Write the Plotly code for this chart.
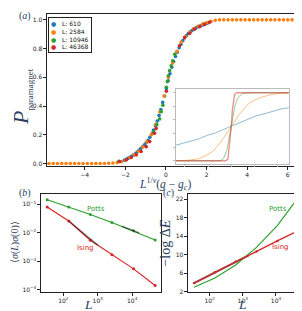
import plotly.graph_objects as go

# ---------------- data ----------------
# panel (a): L = 610
blue_x = [-2.05, -1.96, -1.87, -1.78, -1.69, -1.60, -1.51, -1.42, -1.33, -1.24, -1.15, -1.06,
          -0.97, -0.88, -0.79, -0.70, -0.61, -0.52, -0.43, -0.34, -0.25, -0.16, -0.07, 0.02,
          0.11, 0.20, 0.29, 0.38, 0.47, 0.56, 0.65, 0.74, 0.83, 0.92, 1.01, 1.10, 1.19, 1.28,
          1.37, 1.46, 1.55, 1.64, 1.73, 1.82, 1.91, 2.00, 2.09]
blue_y = [0.022, 0.028, 0.035, 0.042, 0.050, 0.058, 0.068, 0.080, 0.092, 0.104, 0.116, 0.130,
          0.145, 0.162, 0.182, 0.205, 0.232, 0.262, 0.295, 0.335, 0.375, 0.425, 0.470, 0.520,
          0.575, 0.625, 0.670, 0.710, 0.745, 0.775, 0.805, 0.830, 0.855, 0.875, 0.890, 0.905,
          0.915, 0.925, 0.935, 0.942, 0.950, 0.955, 0.960, 0.965, 0.970, 0.975, 0.980]
# L = 2584
orange_x = [-5.76, -5.55, -5.34, -5.13, -4.92, -4.71, -4.50, -4.29, -4.08, -3.87, -3.66, -3.45,
            -3.24, -3.03, -2.82, -2.61, -2.40, -2.19, -1.98, -1.77, -1.56, -1.35, -1.14, -0.93,
            -0.72, -0.51, -0.30, -0.09, 0.12, 0.33, 0.54, 0.75, 0.96, 1.17, 1.38, 1.59, 1.80,
            2.01, 2.22, 2.43, 2.64, 2.85, 3.06, 3.27, 3.48, 3.69, 3.90, 4.11, 4.32, 4.53, 4.74,
            4.95, 5.16, 5.37, 5.58, 5.79, 6.00, 6.21, 6.42]
orange_y = [0.0, 0.0, 0.0, 0.0, 0.0, 0.0, 0.0, 0.0, 0.0, 0.0, 0.0, 0.0,
            0.0, 0.0, 0.001, 0.003, 0.006, 0.012, 0.024, 0.040, 0.060, 0.085, 0.115, 0.150,
            0.200, 0.270, 0.360, 0.470, 0.600, 0.700, 0.780, 0.845, 0.885, 0.915, 0.940, 0.955, 0.970,
            0.980, 0.990, 0.997, 1.0, 1.0, 1.0, 1.0, 1.0, 1.0, 1.0, 1.0, 1.0, 1.0, 1.0,
            1.0, 1.0, 1.0, 1.0, 1.0, 1.0, 1.0, 1.0]
# L = 10946
green_x = [-2.32, -0.62, -0.45, -0.31, -0.23, -0.15, 0.02, 0.07, 0.12, 0.18, 0.26, 0.34, 0.43]
green_y = [0.015, 0.22, 0.27, 0.31, 0.36, 0.405, 0.53, 0.57, 0.61, 0.646, 0.68, 0.715, 0.76]
# L = 46368
red_x = [-2.28, -1.95, -1.71, -1.46, -1.22, -0.97, -0.80, -0.56, -0.48, 0.02, 0.67, 0.92,
         1.17, 1.41, 1.66, 1.90, 2.15]
red_y = [0.014, 0.025, 0.041, 0.060, 0.083, 0.117, 0.152, 0.210, 0.244, 0.503, 0.820, 0.876,
         0.906, 0.934, 0.952, 0.968, 0.984]
series_labels = ["L: 610", "L: 2584", "L: 10946", "L: 46368"]

# inset of panel (a)
inset_blue_x = [0.0, 0.1, 0.2, 0.27, 0.35, 0.42, 0.49, 0.56, 0.63, 0.71, 0.78, 0.86, 0.93, 1.0]
inset_blue_y = [0.23, 0.27, 0.32, 0.37, 0.41, 0.46, 0.51, 0.56, 0.61, 0.66, 0.69, 0.73, 0.76, 0.78]
inset_orange_x = [0.0, 0.12, 0.2, 0.27, 0.32, 0.36, 0.42, 0.49, 0.56, 0.65, 0.72, 0.77, 0.86, 0.93, 1.0]
inset_orange_y = [0.0, 0.01, 0.03, 0.08, 0.13, 0.20, 0.33, 0.50, 0.68, 0.85, 0.91, 0.94, 0.98, 0.99, 1.0]
inset_green_x = [0.0, 0.2, 0.39, 0.42, 0.45, 0.49, 0.52, 0.55, 0.59, 0.7, 1.0]
inset_green_y = [0.0, 0.0, 0.0, 0.03, 0.15, 0.50, 0.80, 0.93, 0.99, 1.0, 1.0]
inset_red_x = [0.0, 0.2, 0.44, 0.46, 0.48, 0.49, 0.50, 0.52, 0.54, 0.7, 1.0]
inset_red_y = [0.0, 0.0, 0.0, 0.02, 0.30, 0.50, 0.75, 0.98, 1.0, 1.0, 1.0]

# panels (b) and (c)
L_vals = [34, 144, 610, 2584, 10946, 46368]
potts_corr = [0.145, 0.081, 0.044, 0.023, 0.0117, 0.0056]
ising_corr = [0.081, 0.026, 0.0055, 0.0017, 0.00054, 0.00014]
ising_fit_L = [144, 1000]
ising_fit_corr = [0.026, 0.0037]
potts_fit_L = [5000, 16000]
potts_fit_corr = [0.017, 0.0098]
potts_gap = [3.0, 5.0, 7.8, 11.6, 16.3, 22.3]
ising_gap = [3.9, 6.2, 8.5, 10.7, 13.0, 15.2]
ising_gap_fit_L = [34, 1500]
ising_gap_fit = [3.9, 9.85]

L_ticks = [100, 1000, 10000]
L_ticktext = ["10<sup>2</sup>", "10<sup>3</sup>", "10<sup>4</sup>"]
corr_ticks = [1e-4, 1e-3, 1e-2, 1e-1]
corr_ticktext = ["10<sup>−4</sup>", "10<sup>−3</sup>", "10<sup>−2</sup>", "10<sup>−1</sup>"]

C_BLUE, C_ORANGE, C_GREEN, C_RED = "#1f77b4", "#ff7f0e", "#2ca02c", "#d62728"

fig = go.Figure()

# ---- panel (a) ----
for xs, ys, col, name in [(blue_x, blue_y, C_BLUE, series_labels[0]),
                          (orange_x, orange_y, C_ORANGE, series_labels[1]),
                          (green_x, green_y, C_GREEN, series_labels[2]),
                          (red_x, red_y, C_RED, series_labels[3])]:
    fig.add_trace(go.Scatter(x=xs, y=ys, mode="markers", name=name,
                             marker=dict(color=col, size=3.6),
                             error_y=dict(type="constant", value=0.008, color=col,
                                          thickness=1, width=0),
                             xaxis="x", yaxis="y", showlegend=False))

# inset
for xs, ys, col, w in [(inset_blue_x, inset_blue_y, C_BLUE, 1),
                       (inset_orange_x, inset_orange_y, C_ORANGE, 1),
                       (inset_green_x, inset_green_y, C_GREEN, 1),
                       (inset_red_x, inset_red_y, C_RED, 1.4)]:
    fig.add_trace(go.Scatter(x=xs, y=ys, mode="lines", line=dict(color=col, width=w),
                             opacity=0.5, xaxis="x4", yaxis="y4", showlegend=False))

# ---- panel (b) ----
fig.add_trace(go.Scatter(x=L_vals, y=potts_corr, mode="lines+markers",
                         line=dict(color=C_GREEN, width=1.2), marker=dict(size=3),
                         xaxis="x2", yaxis="y2", showlegend=False))
fig.add_trace(go.Scatter(x=L_vals, y=ising_corr, mode="lines+markers",
                         line=dict(color=C_RED, width=1.2), marker=dict(size=3),
                         xaxis="x2", yaxis="y2", showlegend=False))
fig.add_trace(go.Scatter(x=ising_fit_L, y=ising_fit_corr, mode="lines",
                         line=dict(color="black", width=1.5), opacity=0.45,
                         xaxis="x2", yaxis="y2", showlegend=False))
fig.add_trace(go.Scatter(x=potts_fit_L, y=potts_fit_corr, mode="lines",
                         line=dict(color="black", width=1.5), opacity=0.45,
                         xaxis="x2", yaxis="y2", showlegend=False))

# ---- panel (c) ----
fig.add_trace(go.Scatter(x=ising_gap_fit_L, y=ising_gap_fit, mode="lines",
                         line=dict(color="black", width=2), opacity=0.6,
                         xaxis="x3", yaxis="y3", showlegend=False))
fig.add_trace(go.Scatter(x=L_vals, y=potts_gap, mode="lines",
                         line=dict(color=C_GREEN, width=1.2),
                         xaxis="x3", yaxis="y3", showlegend=False))
fig.add_trace(go.Scatter(x=L_vals, y=ising_gap, mode="lines+markers",
                         line=dict(color=C_RED, width=1.4), marker=dict(size=2.5),
                         xaxis="x3", yaxis="y3", showlegend=False))

tickfont = dict(family="DejaVu Sans", size=6, color="#222")
common = dict(showline=True, linecolor="#222", linewidth=1, mirror=True, ticks="outside",
              ticklen=2.5, tickwidth=0.8, tickcolor="#222", showgrid=False, zeroline=False,
              tickfont=tickfont)

fig.update_layout(
    width=302, height=311, margin=dict(l=0, r=0, t=0, b=0),
    paper_bgcolor="white", plot_bgcolor="white",
    xaxis=dict(domain=[0.129, 0.960], range=[-5.86, 6.5], tickvals=[-4, -2, 0, 2, 4, 6],
               anchor="y", **common),
    yaxis=dict(domain=[0.4855, 0.9807], range=[-0.021, 1.041], tickvals=[0, 0.2, 0.4, 0.6, 0.8, 1.0],
               tickformat=".1f", anchor="x", **common),
    xaxis2=dict(domain=[0.109, 0.507], type="log", range=[1.35, 4.84],
                tickvals=L_ticks, ticktext=L_ticktext, anchor="y2", **common),
    yaxis2=dict(domain=[0.077, 0.395], type="log", range=[-4.09, -0.65],
                tickvals=corr_ticks, ticktext=corr_ticktext, anchor="x2", **common),
    xaxis3=dict(domain=[0.596, 0.983], type="log", range=[1.35, 4.87],
                tickvals=L_ticks, ticktext=L_ticktext, anchor="y3", **common),
    yaxis3=dict(domain=[0.077, 0.395], range=[1.9, 23.05], tickvals=[2, 6, 10, 14, 18, 22],
                anchor="x3", **common),
    xaxis4=dict(domain=[0.556, 0.930], range=[0, 1], showline=True, linecolor="#bbb",
                mirror=True, ticks="outside", ticklen=2, tickcolor="#bbb",
                tickvals=[0.08, 0.29, 0.49, 0.7, 0.9], showticklabels=False,
                showgrid=False, zeroline=False, anchor="y4"),
    yaxis4=dict(domain=[0.495, 0.736], range=[-0.04, 1.05], showline=True, linecolor="#bbb",
                mirror=True, ticks="outside", ticklen=2, tickcolor="#bbb",
                tickvals=[0, 0.2, 0.4, 0.6, 0.8, 1.0], showticklabels=False,
                showgrid=False, zeroline=False, anchor="x4"),
)

serif = "Liberation Serif"
ann = []
ann.append(dict(text="(<i>a</i>)", x=0.056, y=0.974, font=dict(family=serif, size=10)))
ann.append(dict(text="(<i>b</i>)", x=0.056, y=0.399, font=dict(family=serif, size=10)))
ann.append(dict(text="(<i>c</i>)", x=0.532, y=0.399, font=dict(family=serif, size=10)))
ann.append(dict(text="<i>P</i><sub><span style='font-size:9px'>paramagnet</span></sub>",
                x=0.043, y=0.714, textangle=-90, font=dict(family=serif, size=22)))
ann.append(dict(text="<i>L</i><sup>1/<i>ν</i></sup>(<i>g</i> − <i>g</i><sub><i>c</i></sub>)",
                x=0.52, y=0.427, font=dict(family=serif, size=11.5)))
ann.append(dict(text="⟨<i>σ</i>(<i>L</i>)<i>σ</i>(0)⟩", x=0.024, y=0.241, textangle=-90,
                font=dict(family=serif, size=10)))
ann.append(dict(text="−log Δ<i>E</i>", x=0.521, y=0.236, textangle=-90,
                font=dict(family=serif, size=14)))
for a in ann:
    a.update(xref="paper", yref="paper", showarrow=False, xanchor="center", yanchor="middle")

# x titles "L" at the bottom
for xp in (0.265, 0.778):
    ann.append(dict(text="<i>L</i>", x=xp, y=0.008, xref="paper", yref="paper",
                    showarrow=False, xanchor="center", yanchor="bottom",
                    font=dict(family=serif, size=13.5)))

# series labels inside (b) and (c)
ann.append(dict(text="Potts", x=2.94, y=-1.17, xref="x2", yref="y2", showarrow=False,
                font=dict(family="DejaVu Sans", size=7, color=C_GREEN)))
ann.append(dict(text="Ising", x=2.65, y=-2.53, xref="x2", yref="y2", showarrow=False,
                font=dict(family="DejaVu Sans", size=7, color=C_RED)))
ann.append(dict(text="Potts", x=4.05, y=19.9, xref="x3", yref="y3", showarrow=False,
                font=dict(family="DejaVu Sans", size=7, color=C_GREEN)))
ann.append(dict(text="Ising", x=4.14, y=11.6, xref="x3", yref="y3", showarrow=False,
                font=dict(family="DejaVu Sans", size=7, color=C_RED)))

# legend box for panel (a)
leg_lines = []
for col, lab in zip([C_BLUE, C_ORANGE, C_GREEN, C_RED], series_labels):
    leg_lines.append(f"<span style='color:{col}'>●</span>   {lab}")
ann.append(dict(text="<br>".join(leg_lines), x=0.132, y=0.972, xref="paper", yref="paper",
                xanchor="left", yanchor="top", align="left", showarrow=False,
                bordercolor="#222", borderwidth=1, borderpad=2, bgcolor="white",
                font=dict(family="DejaVu Sans", size=6, color="#111")))
fig.update_layout(annotations=ann)

fig.write_html("out.html")
